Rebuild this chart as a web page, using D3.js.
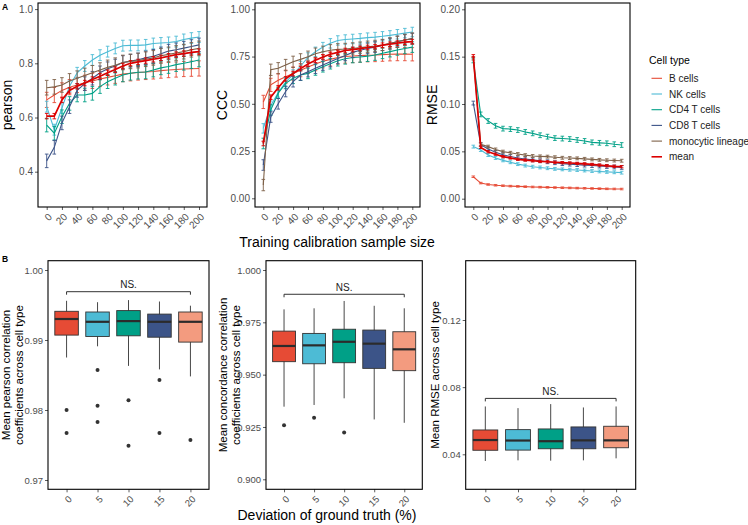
<!DOCTYPE html>
<html><head><meta charset="utf-8">
<script src="https://cdn.jsdelivr.net/npm/d3@7"></script>
<style>body{margin:0;background:#fff}svg{display:block}</style>
</head><body>
<svg id="c" width="748" height="525"></svg>
<script>
// ---------------- DATA ----------------
const sampleSizes = [0,10,20,30,40,50,60,70,80,90,100,110,120,130,140,150,160,170,180,190,200];
const sampleTicks = [0,20,40,60,80,100,120,140,160,180,200];
const cellTypes = ["B cells","NK cells","CD4 T cells","CD8 T cells","monocytic lineage","mean"];
const cellColors = ["#E64B35","#4DBBD5","#00A087","#3C5488","#7E6148","#DC0000"];

// pearson
const pearsonBcells = [0.665,0.683,0.70,0.712,0.72,0.728,0.735,0.742,0.748,0.754,0.76,0.763,0.766,0.768,0.77,0.773,0.775,0.777,0.779,0.78,0.781];
const pearsonNK     = [0.64,0.555,0.635,0.715,0.765,0.79,0.812,0.83,0.843,0.855,0.865,0.866,0.866,0.868,0.873,0.875,0.877,0.88,0.888,0.893,0.897];
const pearsonCD4    = [0.572,0.542,0.603,0.652,0.683,0.683,0.689,0.714,0.732,0.745,0.757,0.763,0.767,0.768,0.775,0.783,0.788,0.795,0.80,0.806,0.812];
const pearsonCD8    = [0.44,0.49,0.58,0.64,0.70,0.725,0.745,0.765,0.78,0.79,0.803,0.808,0.813,0.82,0.826,0.835,0.845,0.85,0.856,0.862,0.868];
const pearsonMono   = [0.71,0.713,0.72,0.735,0.745,0.755,0.765,0.775,0.785,0.793,0.803,0.807,0.81,0.815,0.82,0.828,0.833,0.838,0.843,0.85,0.855];
const pearsonMean   = [0.605,0.605,0.665,0.70,0.715,0.727,0.74,0.752,0.765,0.777,0.79,0.80,0.805,0.81,0.815,0.82,0.826,0.832,0.836,0.84,0.843];
const pearsonErr    = [0.028,0.02,0.025,0.025,0.027,0.01];

// CCC
const cccBcells = [0.51,0.60,0.625,0.643,0.66,0.678,0.695,0.71,0.725,0.735,0.745,0.75,0.753,0.755,0.757,0.758,0.76,0.762,0.763,0.763,0.762];
const cccNK     = [0.37,0.49,0.56,0.615,0.655,0.70,0.745,0.775,0.80,0.82,0.835,0.84,0.843,0.846,0.85,0.853,0.857,0.862,0.868,0.874,0.88];
const cccCD4    = [0.29,0.467,0.556,0.608,0.635,0.652,0.661,0.679,0.696,0.712,0.728,0.738,0.745,0.748,0.752,0.758,0.767,0.776,0.785,0.793,0.80];
const cccCD8    = [0.176,0.43,0.50,0.565,0.617,0.652,0.67,0.688,0.705,0.723,0.74,0.756,0.772,0.783,0.793,0.80,0.81,0.818,0.83,0.838,0.845];
const cccMono   = [0.07,0.68,0.688,0.705,0.722,0.735,0.749,0.765,0.775,0.783,0.788,0.79,0.793,0.797,0.802,0.806,0.811,0.82,0.828,0.838,0.845];
const cccMean   = [0.29,0.535,0.585,0.632,0.66,0.686,0.71,0.73,0.748,0.762,0.772,0.782,0.787,0.792,0.798,0.802,0.81,0.815,0.821,0.826,0.829];
const cccErr    = [0.035,0.025,0.028,0.028,0.03,0.012];

// RMSE
const rmseBcells = [0.0232,0.0165,0.0150,0.0142,0.0137,0.0133,0.0130,0.0127,0.0124,0.0122,0.0120,0.0118,0.0116,0.0114,0.0112,0.0110,0.0108,0.0106,0.0104,0.0103,0.0102];
const rmseNK     = [0.055,0.0514,0.0461,0.0430,0.0405,0.0385,0.0365,0.0350,0.0338,0.0330,0.0322,0.0315,0.0310,0.0306,0.0303,0.0298,0.0292,0.0288,0.0283,0.0279,0.0275];
const rmseCD4    = [0.146,0.089,0.082,0.077,0.074,0.0735,0.0725,0.0705,0.069,0.067,0.0655,0.064,0.0635,0.063,0.062,0.061,0.0595,0.059,0.0585,0.0575,0.0567];
const rmseCD8    = [0.101,0.057,0.0525,0.049,0.0465,0.0445,0.043,0.042,0.041,0.040,0.039,0.038,0.037,0.0365,0.036,0.0355,0.035,0.0345,0.034,0.0335,0.033];
const rmseMono   = [0.148,0.0575,0.055,0.052,0.0497,0.0485,0.0472,0.046,0.0451,0.0447,0.0444,0.0438,0.0432,0.0429,0.0426,0.0421,0.0415,0.0410,0.0406,0.0403,0.0401];
const rmseMean   = [0.151,0.0542,0.0496,0.047,0.0444,0.043,0.0416,0.0408,0.0401,0.0395,0.039,0.0385,0.038,0.0377,0.0373,0.0368,0.0362,0.0355,0.0348,0.0342,0.0338];
const rmseErr    = [0.0008,0.0015,0.0025,0.002,0.0015,0.0012];

// Panel B box plots
const deviationCats = ["0","5","10","15","20"];
const boxColors = ["#E64B35","#4DBBD5","#00A087","#3C5488","#F39B7F"];

const pearsonBoxLow  = [0.9875,0.9891,0.9863,0.9858,0.9848];
const pearsonBoxQ1   = [0.9907,0.9905,0.9906,0.9904,0.9897];
const pearsonBoxMed  = [0.9930,0.9926,0.9927,0.9926,0.9926];
const pearsonBoxQ3   = [0.9941,0.9940,0.9942,0.9937,0.9940];
const pearsonBoxHigh = [0.9956,0.9954,0.9957,0.9955,0.9949];
const pearsonOutliers = [[0.9800,0.9767],[0.9857,0.9806,0.9783],[0.9814,0.9749],[0.9843,0.9767],[0.9757]];

const cccBoxLow  = [0.9347,0.9355,0.9387,0.9286,0.9270];
const cccBoxQ1   = [0.9562,0.9552,0.9557,0.9530,0.9519];
const cccBoxMed  = [0.9637,0.9640,0.9657,0.9648,0.9621];
const cccBoxQ3   = [0.9708,0.9697,0.9717,0.9713,0.9705];
const cccBoxHigh = [0.9812,0.9817,0.9852,0.9829,0.9817];
const cccOutliers = [[0.9258],[0.9294],[0.9224],[],[]];

const rmseBoxLow  = [0.0360,0.0364,0.0362,0.0364,0.0376];
const rmseBoxQ1   = [0.0424,0.0425,0.0433,0.0433,0.0439];
const rmseBoxMed  = [0.0485,0.0482,0.0478,0.0483,0.0483];
const rmseBoxQ3   = [0.0545,0.0547,0.0551,0.0563,0.0567];
const rmseBoxHigh = [0.0685,0.0675,0.0699,0.0679,0.0685];
const rmseOutliers = [[],[],[],[],[]];

// ---------------- DRAW ----------------
const FONT = '"Liberation Sans", Arial, Helvetica, sans-serif';
const svg = d3.select("#c").attr("font-family", FONT);

function styleAxis(sel, fs){
  sel.attr("font-family", FONT).attr("font-size", fs);
  sel.select(".domain").remove();
  sel.selectAll(".tick line").attr("stroke","#333").attr("stroke-width",0.8);
  sel.selectAll(".tick text").attr("fill","#4D4D4D");
}
function rotateLabels(sel, tx, ty){
  sel.selectAll(".tick text")
    .attr("x",0).attr("y",0).attr("dy","0.35em")
    .attr("text-anchor","end")
    .attr("transform",`translate(${tx},${ty}) rotate(-45)`);
}

function linePanel(o){
  const x = d3.scaleLinear().domain([0,200]).range([o.x0, o.x200]);
  const y = d3.scaleLinear().domain(o.yRefVals).range(o.yRefPx);
  const g = svg.append("g");
  const ay = g.append("g").attr("transform",`translate(${o.left},0)`)
    .call(d3.axisLeft(y).tickValues(o.yTicks).tickFormat(d3.format(o.yFmt)).tickSize(3).tickPadding(2));
  styleAxis(ay, 10);
  const ax = g.append("g").attr("transform",`translate(0,${o.bottom})`)
    .call(d3.axisBottom(x).tickValues(sampleTicks).tickSize(3));
  styleAxis(ax, 10);
  rotateLabels(ax, 3, 8);

  const line = d3.line().x(d=>x(d.s)).y(d=>y(d.v));
  o.series.forEach((vals,i)=>{
    const data = sampleSizes.map((s,j)=>({s, v: vals[j]}));
    const col = cellColors[i];
    const e = o.errs[i];
    g.append("path").datum(data).attr("d", line)
      .attr("fill","none").attr("stroke", col).attr("stroke-width", i===5?1.7:1.1);
    const eb = g.append("g").attr("stroke", col).attr("stroke-width", 0.9);
    data.forEach(d=>{
      const xx = x(d.s), y1 = y(d.v - e), y2 = y(d.v + e);
      eb.append("line").attr("x1",xx).attr("x2",xx).attr("y1",y1).attr("y2",y2);
      eb.append("line").attr("x1",xx-1.8).attr("x2",xx+1.8).attr("y1",y1).attr("y2",y1);
      eb.append("line").attr("x1",xx-1.8).attr("x2",xx+1.8).attr("y1",y2).attr("y2",y2);
    });
  });
  g.append("rect").attr("x",o.left).attr("y",o.top).attr("width",o.right-o.left).attr("height",o.bottom-o.top)
    .attr("fill","none").attr("stroke","#000").attr("stroke-width",1.1);
  g.append("text").attr("transform",`translate(${o.titleX},${(o.top+o.bottom)/2}) rotate(-90)`)
    .attr("text-anchor","middle").attr("font-size",14).attr("fill","#000").text(o.title);
}

linePanel({left:38,right:207,top:3,bottom:207,x0:46.7,x200:199,
  yRefVals:[0.4,0.8], yRefPx:[171.7,63.3], yTicks:[0.4,0.6,0.8,1.0], yFmt:".1f",
  series:[pearsonBcells,pearsonNK,pearsonCD4,pearsonCD8,pearsonMono,pearsonMean], errs:pearsonErr,
  title:"pearson", titleX:12});
linePanel({left:255,right:420,top:3,bottom:207,x0:263.3,x200:412.3,
  yRefVals:[0,1], yRefPx:[198.3,9.3], yTicks:[0,0.25,0.5,0.75,1.0], yFmt:".2f",
  series:[cccBcells,cccNK,cccCD4,cccCD8,cccMono,cccMean], errs:cccErr,
  title:"CCC", titleX:227});
linePanel({left:465,right:630,top:3,bottom:207,x0:473.3,x200:621.7,
  yRefVals:[0,0.2], yRefPx:[198.7,9.3], yTicks:[0,0.05,0.1,0.15,0.2], yFmt:".2f",
  series:[rmseBcells,rmseNK,rmseCD4,rmseCD8,rmseMono,rmseMean], errs:rmseErr,
  title:"RMSE", titleX:437});

svg.append("text").attr("x",337).attr("y",247).attr("text-anchor","middle").attr("font-size",14).text("Training calibration sample size");

// legend
const lg = svg.append("g");
lg.append("text").attr("x",649).attr("y",64).attr("font-size",10.5).attr("fill","#000").text("Cell type");
cellTypes.forEach((n,i)=>{
  const yy = 78.3 + i*15.7;
  lg.append("line").attr("x1",651.5).attr("x2",662).attr("y1",yy).attr("y2",yy)
    .attr("stroke",cellColors[i]).attr("stroke-width", i===5?1.6:1.1);
  lg.append("text").attr("x",669).attr("y",yy).attr("dy","0.35em").attr("font-size",10).attr("fill","#222").text(n);
});

// panel labels
svg.append("text").attr("x",2).attr("y",10).attr("font-size",8.5).attr("font-weight","bold").text("A");
svg.append("text").attr("x",2).attr("y",262).attr("font-size",8.5).attr("font-weight","bold").text("B");

function boxPanel(o){
  const x = d3.scalePoint().domain(deviationCats).range([o.left,o.right]).padding(0.6);
  const bw = x.step()*0.76;
  const y = d3.scaleLinear().domain(o.yRefVals).range(o.yRefPx);
  const g = svg.append("g");
  const ay = g.append("g").attr("transform",`translate(${o.left},0)`)
    .call(d3.axisLeft(y).tickValues(o.yTicks).tickFormat(d3.format(o.yFmt)).tickSize(3).tickPadding(2));
  styleAxis(ay, 9.5);
  const ax = g.append("g").attr("transform",`translate(0,${o.bottom})`)
    .call(d3.axisBottom(x).tickSize(3));
  styleAxis(ax, 9.5);
  rotateLabels(ax, 3, 8);

  deviationCats.forEach((c,i)=>{
    const cx = x(c);
    g.append("line").attr("x1",cx).attr("x2",cx).attr("y1",y(o.high[i])).attr("y2",y(o.low[i]))
      .attr("stroke","#333").attr("stroke-width",0.9);
    g.append("rect").attr("x",cx-bw/2).attr("y",y(o.q3[i])).attr("width",bw).attr("height",y(o.q1[i])-y(o.q3[i]))
      .attr("fill",boxColors[i]).attr("stroke","#333").attr("stroke-width",0.9);
    g.append("line").attr("x1",cx-bw/2).attr("x2",cx+bw/2).attr("y1",y(o.med[i])).attr("y2",y(o.med[i]))
      .attr("stroke","#2b2b2b").attr("stroke-width",2.2);
    o.out[i].forEach(v=>{
      g.append("circle").attr("cx",cx).attr("cy",y(v)).attr("r",2).attr("fill","#333");
    });
  });
  // NS bracket
  const by = y(o.ns);
  const xa = x(deviationCats[0]), xb = x(deviationCats[4]);
  g.append("path").attr("d",`M${xa},${by+3}V${by}H${xb}V${by+3}`).attr("fill","none").attr("stroke","#333").attr("stroke-width",1);
  g.append("text").attr("x",(xa+xb)/2).attr("y",by-3.3).attr("text-anchor","middle").attr("font-size",10).attr("fill","#222").text("NS.");

  g.append("rect").attr("x",o.left).attr("y",o.top).attr("width",o.right-o.left).attr("height",o.bottom-o.top)
    .attr("fill","none").attr("stroke","#000").attr("stroke-width",1.1);
  const t = g.append("text").attr("transform",`translate(${o.titleX},${(o.top+o.bottom)/2}) rotate(-90)`)
    .attr("text-anchor","middle").attr("font-size",11.5).attr("fill","#000");
  o.title.forEach((line,k)=>{
    t.append("tspan").attr("x",0).attr("dy", k===0 ? (o.title.length>1? "-0.25em":"0em") : "1.12em").text(line);
  });
}

boxPanel({left:48,right:209,top:260.7,bottom:489.3,
  yRefVals:[0.97,1.0], yRefPx:[480,270], yTicks:[0.97,0.98,0.99,1.0], yFmt:".2f",
  low:pearsonBoxLow,q1:pearsonBoxQ1,med:pearsonBoxMed,q3:pearsonBoxQ3,high:pearsonBoxHigh,out:pearsonOutliers,
  ns:0.9969, title:["Mean pearson correlation","coefficients across cell type"], titleX:13});
boxPanel({left:266,right:422.3,top:260.7,bottom:489.3,
  yRefVals:[0.9,1.0], yRefPx:[479.3,270], yTicks:[0.9,0.925,0.95,0.975,1.0], yFmt:".3f",
  low:cccBoxLow,q1:cccBoxQ1,med:cccBoxMed,q3:cccBoxQ3,high:cccBoxHigh,out:cccOutliers,
  ns:0.9884, title:["Mean concordance correlation","coefficients across cell type"], titleX:230});
boxPanel({left:465.7,right:635.7,top:260.7,bottom:489.3,
  yRefVals:[0.04,0.12], yRefPx:[454.3,320], yTicks:[0.04,0.08,0.12], yFmt:".2f",
  low:rmseBoxLow,q1:rmseBoxQ1,med:rmseBoxMed,q3:rmseBoxQ3,high:rmseBoxHigh,out:rmseOutliers,
  ns:0.0733, title:["Mean RMSE across cell type"], titleX:439});

svg.append("text").attr("x",327).attr("y",520).attr("text-anchor","middle").attr("font-size",14).text("Deviation of ground truth (%)");
</script>
</body></html>
